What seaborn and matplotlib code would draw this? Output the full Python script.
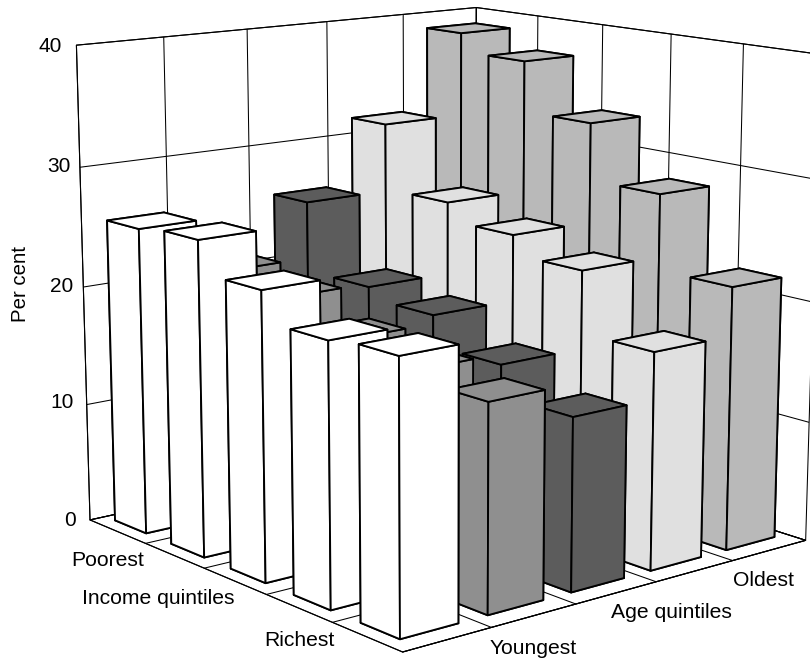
import matplotlib
matplotlib.use('Agg')
import matplotlib.pyplot as plt
import seaborn as sns

# Share of the population (per cent) by age quintile and income quintile.
income_quintiles = ['Poorest', 'Q2', 'Q3', 'Q4', 'Richest']
youngest = [25.6, 26.0, 23.4, 21.0, 21.4]
age_q2 = [21.0, 20.2, 18.3, 17.4, 16.6]
age_q3 = [25.8, 19.9, 19.0, 16.5, 14.0]
age_q4 = [31.6, 26.0, 24.5, 22.9, 17.8]
oldest = [38.8, 37.2, 32.9, 28.1, 21.8]
age_series = [youngest, age_q2, age_q3, age_q4, oldest]
age_colours = ['#ffffff', '#8f8f8f', '#5c5c5c', '#e0e0e0', '#b9b9b9']
z_ticks = [0, 10, 20, 30, 40]

W, H = 810, 659
sns.set_theme(style='white', rc={'grid.color': 'black', 'grid.linewidth': 0.75,
                                 'axes3d.grid': True})
plt.rcParams['font.family'] = ['Liberation Sans', 'DejaVu Sans']

fig = plt.figure(figsize=(W / 100, H / 100), dpi=100)
ax = fig.add_axes([0.004583, -0.114151, 1.057328, 1.299598],
                  projection='3d', computed_zorder=False)
ax.set_xlim(0, 5)
ax.set_ylim(0, 5)
ax.set_zlim(0, 40)
ax.view_init(12.404, -129.415)
ax.set_proj_type('persp', focal_length=0.5972)
ax.set_box_aspect((1.0558, 1.0514, 1))

# White walls and floor with a black frame and grid, no tick marks.
for axis in (ax.xaxis, ax.yaxis, ax.zaxis):
    axis.set_pane_color((1, 1, 1, 1))
    axis.pane.set_edgecolor('black')
    axis.pane.set_linewidth(0.8)
    axis.line.set_color('black')
    axis.line.set_linewidth(0.8)
    axis._axinfo['tick']['inward_factor'] = 0
    axis._axinfo['tick']['outward_factor'] = 0
ax.set_xticks(range(6))
ax.set_yticks(range(6))
ax.set_zticks(z_ticks)
ax.set_xticklabels([])
ax.set_yticklabels([])
ax.set_zticklabels([])
ax.patch.set_visible(False)

# Bars are painted from the far corner to the near one.
palette = sns.color_palette(age_colours)
gap_x, gap_y, bar_x, bar_y = 0.185, 0.27, 0.66, 0.56
order = 10
for i in range(4, -1, -1):
    for j, value in enumerate(age_series[i]):
        order += 1
        ax.bar3d(i + gap_x, 4 - j + gap_y, 0, bar_x, bar_y, value,
                 color=palette[i], edgecolor='black', linewidth=1.35,
                 shade=False, zorder=order)


def label(px, py, text, size=15.2, **kwargs):
    fig.text(px / W, 1 - py / H, text, va='center', fontsize=size,
             color='black', **{'ha': 'center', **kwargs})


for tick, (px, py) in zip(z_ticks, [(76, 521), (74, 402), (73, 287), (71, 167), (62, 46)]):
    label(px, py, str(tick), size=15, ha='right')

label(108, 561, 'Poorest')
label(158, 598, 'Income quintiles')
label(299, 640, 'Richest')
label(533, 648, 'Youngest')
label(671, 613, 'Age quintiles')
label(763, 580, 'Oldest')
label(20, 284, 'Per cent', size=14.7, rotation=90)

fig.savefig('out.png', dpi=100)
